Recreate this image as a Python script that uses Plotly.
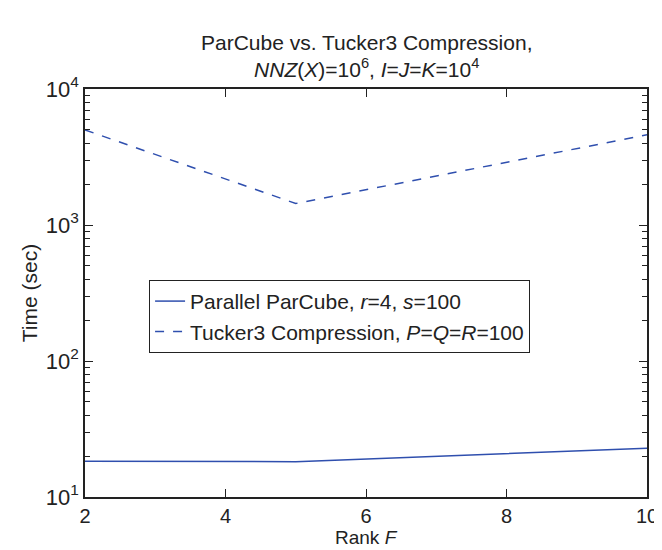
import plotly.graph_objects as go

rank_f = [2, 5, 10]
parcube_time = [18.3, 18.2, 22.8]
tucker_time = [5000, 1440, 4600]
y_tickvals = [10, 100, 1000, 10000]
y_ticktext = ["10<sup>1</sup>", "10<sup>2</sup>", "10<sup>3</sup>", "10<sup>4</sup>"]
y_minor_vals = [m * 10 ** k for k in (1, 2, 3) for m in range(2, 10)]
x_tickvals = [2, 4, 6, 8, 10]

color = "#2f4fae"
font = "Liberation Sans, Arial, sans-serif"
title_text = ("ParCube vs. Tucker3 Compression,<br><i>NNZ</i>(<i>X</i>)=10<sup>6</sup>, "
              "<i>I</i>=<i>J</i>=<i>K</i>=10<sup>4</sup>")

fig = go.Figure()
fig.add_trace(go.Scatter(x=rank_f, y=parcube_time, mode="lines",
                         line=dict(color=color, width=1.5),
                         name="Parallel ParCube, <i>r</i>=4, <i>s</i>=100"))
fig.add_trace(go.Scatter(x=rank_f, y=tucker_time, mode="lines",
                         line=dict(color=color, width=1.5, dash="dash"),
                         name="Tucker3 Compression, <i>P</i>=<i>Q</i>=<i>R</i>=100"))
# helper trace so the minor-tick axis is drawn
fig.add_trace(go.Scatter(x=rank_f, y=parcube_time, mode="lines",
                         yaxis="y2", showlegend=False, hoverinfo="skip",
                         line=dict(color="rgba(0,0,0,0)")))

axis_common = dict(showline=True, linecolor="#222", linewidth=1.5, mirror="ticks",
                   showgrid=False, zeroline=False, ticks="inside", tickcolor="#222",
                   tickwidth=1.2)

fig.update_layout(
    width=662, height=550,
    margin=dict(l=77, r=13, t=81, b=61),
    paper_bgcolor="white", plot_bgcolor="white",
    font=dict(family=font, size=20, color="#222"),
    showlegend=True,
    legend=dict(x=0.114, y=0.532, xanchor="left", yanchor="top",
                bordercolor="#222", borderwidth=1, bgcolor="white",
                font=dict(size=21), tracegroupgap=0, itemwidth=30),
    annotations=[
        dict(text=title_text, x=0.5, y=1, xref="paper", yref="paper",
             xanchor="center", yanchor="bottom", yshift=6, showarrow=False,
             font=dict(size=21, color="#222"), align="center"),
        dict(text="Rank <i>F</i>", x=0.5, y=0, xref="paper", yref="paper",
             xanchor="center", yanchor="top", yshift=-28, showarrow=False,
             font=dict(size=19, color="#222")),
    ],
    xaxis=dict(range=[2, 10], tickvals=x_tickvals, ticklen=8,
               tickfont=dict(size=20), **axis_common),
    yaxis=dict(type="log", range=[1, 4], tickvals=y_tickvals, ticktext=y_ticktext,
               ticklen=8, tickfont=dict(size=22),
               title=dict(text="Time (sec)", font=dict(size=21), standoff=2),
               **axis_common),
    yaxis2=dict(type="log", range=[1, 4], overlaying="y", anchor="x", side="left",
                tickvals=y_minor_vals, showticklabels=False, ticklen=5,
                **axis_common),
)

fig.write_html("out.html")
